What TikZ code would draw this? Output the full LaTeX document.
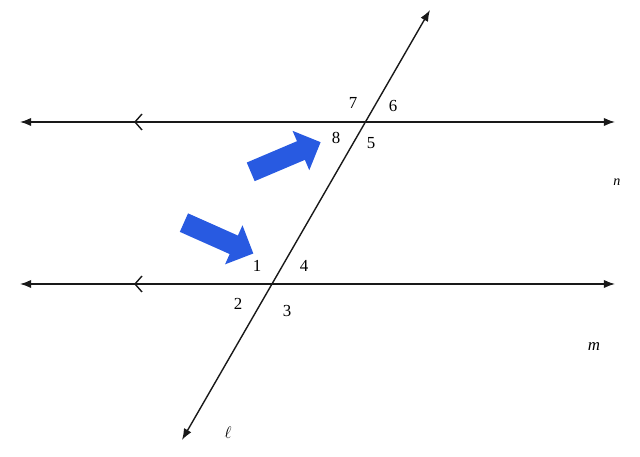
\documentclass[tikz,border=0pt]{standalone}
\usepackage{fontspec}
\setmainfont{Liberation Serif}
\usetikzlibrary{arrows.meta,shapes.arrows}

\begin{document}
\begin{tikzpicture}[
x=0.025cm, y=-0.025cm,
line/.style={
  draw=black!90,
  line width=1pt,
  {Latex[length=8pt,width=6pt]}-{Latex[length=8pt,width=6pt]}
  },
tick/.style={
  draw=black!90,
  line width=1pt
  },
num/.style={
  font=\large,
  inner sep=0pt
  },
blockarrow/.style={
  single arrow,
  fill={rgb,255:red,40;green,90;blue,225},
  draw=none,
  minimum width=27pt,
  minimum height=54pt,
  single arrow head extend=8pt,
  single arrow head indent=0pt,
  inner sep=7pt
  }
]
\useasboundingbox (0,0) rectangle (640,457);

% parallel lines and transversal
\coordinate (nL) at (20,122);  \coordinate (nR) at (615,122);
\coordinate (mL) at (20,284);  \coordinate (mR) at (615,284);
\coordinate (lT) at (430,10);  \coordinate (lB) at (182,440);
\coordinate (P) at (365,122);  \coordinate (Q) at (272,284);

\draw[line] (nL) -- (nR);
\draw[line] (mL) -- (mR);
\draw[line] (lB) -- (lT);

% parallel marks
\foreach \yy in {122,284}
  \draw[tick] (142,\yy-8) -- (135,\yy) -- (142,\yy+8);

% angle numbers
\foreach \n/\dx/\dy in {7/-12/-19, 6/28/-16, 8/-29/16, 5/6/21}
  \node[num] (a\n) at ([shift={(\dx,\dy)}]P) {\n};
\foreach \n/\dx/\dy in {1/-15/-18, 4/32/-18, 2/-34/20, 3/15/27}
  \node[num] (a\n) at ([shift={(\dx,\dy)}]Q) {\n};

% line names
\node[font=\itshape] (nameN) at (617,182) {n};
\node[font=\itshape\large] (nameM) at (594,347) {m};
\node[font=\large] (nameL) at (228,433) {$\ell$};

% blue arrows
\node[blockarrow, rotate=23] (upArrow) at (281,159) {};
\node[blockarrow, rotate=-24] (downArrow) at (214,236) {};
\end{tikzpicture}
\end{document}
